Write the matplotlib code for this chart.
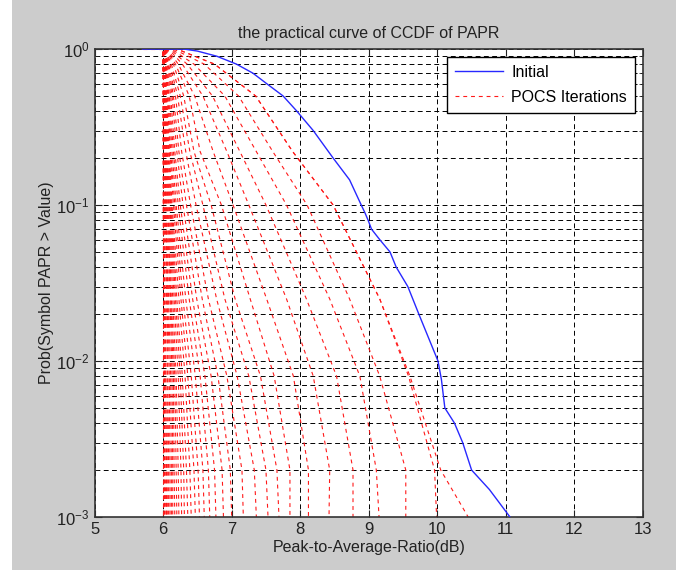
import numpy as np
import matplotlib
matplotlib.use('Agg')
import matplotlib.pyplot as plt
from matplotlib.patches import Rectangle

plt.rcParams['font.family'] = ['Liberation Sans', 'DejaVu Sans']

# Initial (no clipping) CCDF
init_x = [5.7, 6.30, 6.50, 6.78, 7.07, 7.31, 7.51, 7.75, 7.95, 8.19, 8.48, 8.72,
          8.89, 8.94, 8.99, 9.04, 9.16, 9.31, 9.40, 9.57, 9.73, 10.01, 10.06,
          10.11, 10.25, 10.37, 10.50, 10.76, 11.06]
init_p = [1.0, 1.0, 0.97, 0.9, 0.8, 0.7, 0.6, 0.5, 0.4, 0.3, 0.2, 0.145,
          0.1, 0.09, 0.08, 0.07, 0.06, 0.05, 0.04, 0.03, 0.02, 0.01, 0.0076,
          0.005, 0.004, 0.003, 0.002, 0.0015, 0.001]

# POCS iterations: x position (dB) of each red curve at these probability levels
pocs_start = 5.7
pocs_p = [1.0, 0.8, 0.5, 0.22, 0.1, 0.025, 0.008, 0.002, 0.001]
pocs_x = [
    [6.20, 6.75, 7.35, 7.89, 8.48, 9.16, 9.60, 10.05, 10.45],
    [6.20, 6.75, 7.35, 7.89, 8.48, 9.16, 9.58, 9.96, 9.99],
    [6.15, 6.60, 7.10, 7.60, 8.10, 8.72, 9.16, 9.54, 9.54],
    [6.12, 6.45, 6.90, 7.36, 7.80, 8.43, 8.87, 9.11, 9.15],
    [6.10, 6.35, 6.72, 7.12, 7.50, 8.09, 8.53, 8.77, 8.77],
    [6.08, 6.28, 6.58, 6.93, 7.25, 7.80, 8.19, 8.43, 8.42],
    [6.06, 6.22, 6.46, 6.73, 7.02, 7.51, 7.90, 8.12, 8.12],
    [6.05, 6.18, 6.38, 6.54, 6.85, 7.27, 7.62, 7.85, 7.85],
    [6.04, 6.15, 6.30, 6.45, 6.70, 7.05, 7.42, 7.66, 7.69],
    [6.03, 6.12, 6.25, 6.39, 6.58, 6.90, 7.25, 7.50, 7.53],
    [6.03, 6.10, 6.21, 6.33, 6.48, 6.78, 7.08, 7.33, 7.36],
    [6.02, 6.08, 6.18, 6.27, 6.40, 6.66, 6.93, 7.15, 7.17],
    [6.02, 6.07, 6.15, 6.23, 6.34, 6.57, 6.80, 6.98, 7.00],
    [6.02, 6.06, 6.13, 6.20, 6.29, 6.49, 6.70, 6.86, 6.88],
    [6.01, 6.05, 6.11, 6.17, 6.25, 6.43, 6.61, 6.75, 6.77],
    [6.01, 6.04, 6.09, 6.15, 6.22, 6.38, 6.54, 6.66, 6.68],
    [6.01, 6.04, 6.08, 6.13, 6.19, 6.33, 6.47, 6.58, 6.60],
    [6.01, 6.03, 6.07, 6.11, 6.17, 6.29, 6.41, 6.51, 6.53],
    [6.01, 6.03, 6.06, 6.10, 6.15, 6.26, 6.36, 6.45, 6.47],
    [6.00, 6.02, 6.05, 6.09, 6.13, 6.23, 6.32, 6.39, 6.41],
    [6.00, 6.02, 6.05, 6.08, 6.12, 6.20, 6.28, 6.34, 6.36],
    [6.00, 6.02, 6.04, 6.07, 6.11, 6.18, 6.25, 6.30, 6.31],
    [6.00, 6.01, 6.04, 6.06, 6.10, 6.16, 6.22, 6.26, 6.27],
    [6.00, 6.01, 6.03, 6.05, 6.09, 6.14, 6.19, 6.22, 6.23],
    [6.00, 6.01, 6.03, 6.05, 6.08, 6.12, 6.17, 6.19, 6.20],
    [6.00, 6.01, 6.02, 6.04, 6.07, 6.11, 6.15, 6.16, 6.17],
    [6.00, 6.01, 6.02, 6.04, 6.06, 6.10, 6.13, 6.14, 6.14],
    [6.00, 6.01, 6.02, 6.03, 6.05, 6.08, 6.11, 6.12, 6.12],
    [6.00, 6.00, 6.02, 6.03, 6.04, 6.07, 6.09, 6.10, 6.10],
    [6.00, 6.00, 6.01, 6.02, 6.04, 6.06, 6.07, 6.08, 6.08],
    [6.00, 6.00, 6.01, 6.02, 6.03, 6.05, 6.06, 6.06, 6.06],
    [6.00, 6.00, 6.01, 6.01, 6.02, 6.03, 6.04, 6.05, 6.05],
    [6.00, 6.00, 6.00, 6.01, 6.01, 6.02, 6.03, 6.03, 6.04],
    [6.00, 6.00, 6.00, 6.00, 6.01, 6.01, 6.02, 6.02, 6.02],
    [6.00, 6.00, 6.00, 6.00, 6.00, 6.01, 6.01, 6.01, 6.01],
    [6.00, 6.00, 6.00, 6.00, 6.00, 6.00, 6.00, 6.00, 6.00],
]

fig = plt.figure(figsize=(6.88, 5.70), dpi=100, facecolor='white')
# matlab style grey figure background
fig.patches.append(Rectangle((12 / 688, 0), 664 / 688, 1, transform=fig.transFigure,
                             facecolor='#cccccc', edgecolor='none', zorder=-10))
ax = fig.add_axes([0.1375, 0.093, 0.797, 0.821])
ax.set_facecolor('white')

ax.semilogy(init_x, init_p, color='#2828ff', lw=1.0, label='Initial', zorder=3)
for i, row in enumerate(pocs_x):
    xs = [pocs_start] + row
    ps = [1.0] + pocs_p
    ax.semilogy(xs, ps, color='#ff1a1a', lw=0.8, linestyle=(0, (3.5, 3.5)),
                label='POCS Iterations' if i == 0 else None, zorder=2)

ax.set_xlim(5, 13)
ax.set_ylim(1e-3, 1)
ax.set_xticks(range(5, 14))

ax.grid(True, which='major', color='black', linestyle=(0, (5, 3.5)), lw=0.7)
ax.grid(True, which='minor', axis='y', color='black', linestyle=(0, (5, 3.5)), lw=0.7)
ax.tick_params(which='both', direction='in', top=True, right=True,
               labelsize=12, colors='#222222')
ax.tick_params(which='major', length=5)
ax.tick_params(which='minor', length=3)
for s in ax.spines.values():
    s.set_color('#333333')
    s.set_linewidth(1.2)

ax.set_title('the practical curve of CCDF of PAPR', fontsize=11.5, color='#222222', pad=8)
ax.set_xlabel('Peak-to-Average-Ratio(dB)', fontsize=11.5, color='#222222', labelpad=2)
ax.set_ylabel('Prob(Symbol PAPR > Value)', fontsize=11.5, color='#222222', labelpad=2)

leg = ax.legend(loc='upper right', fontsize=11.5, fancybox=False, framealpha=1,
                edgecolor='black', borderaxespad=0.5, handlelength=3.0,
                handletextpad=0.5, labelspacing=0.6, borderpad=0.5)
leg.get_frame().set_linewidth(1.0)

fig.savefig('out.png', dpi=100, facecolor=fig.get_facecolor())
